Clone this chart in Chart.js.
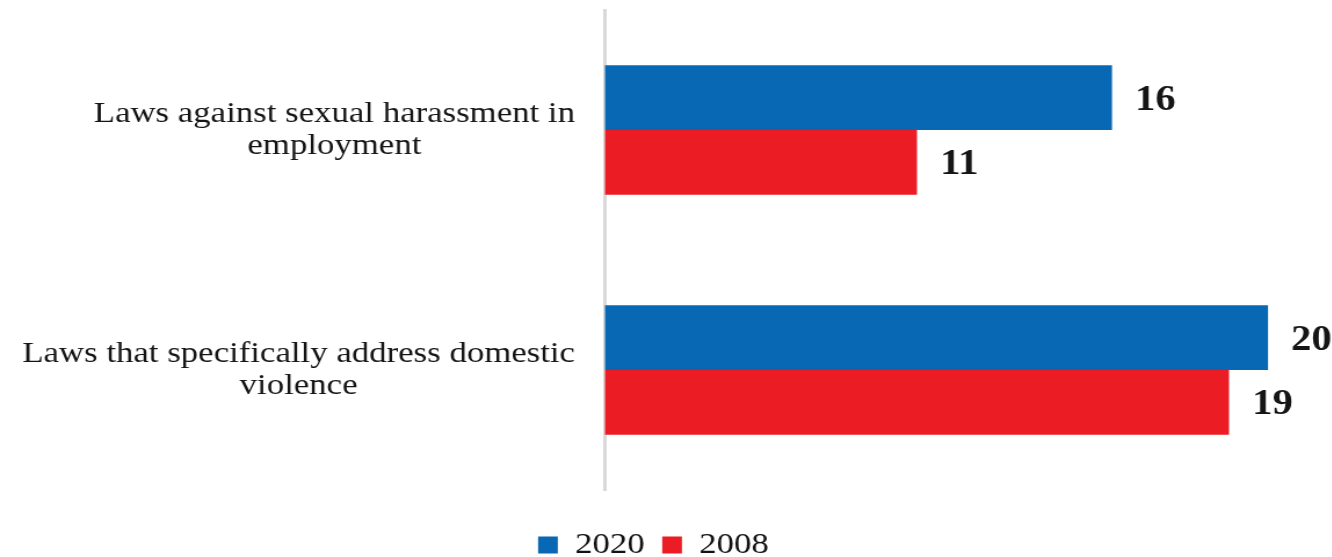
<!DOCTYPE html>
<html>
<head>
<meta charset="utf-8">
<script src="https://cdn.jsdelivr.net/npm/chart.js@4/dist/chart.umd.min.js"></script>
<style>
  html, body { margin: 0; padding: 0; background: #fff; overflow: hidden; }
  /* the source picture is stretched sideways, so the whole canvas is too */
  #chart { display: block; transform: scaleX(1.16); transform-origin: 0 0; }
</style>
</head>
<body>
<canvas id="chart" width="1148" height="557"></canvas>
<script>
const categories = [
    ['Laws against sexual harassment in', 'employment'],
    ['Laws that specifically address domestic', 'violence']
];
const seriesNames = ['2020', '2008'];
const values2020 = [16, 20];
const values2008 = [11, 19];
const axisMin = 3;
const axisMax = 21;

const STRETCH = 1.16;
const SERIF = "'Liberation Serif', 'Times New Roman', serif";
const BLUE = '#0868b4';
const RED = '#ec1c24';

// draws the wrapped category names (each block centred on itself) and the bold values
const labelPlugin = {
    id: 'sideLabels',
    afterDraw(chart) {
        const ctx = chart.ctx;
        const yScale = chart.scales.y;
        const labelRight = 575 / STRETCH;
        ctx.save();
        ctx.fillStyle = '#151515';
        ctx.textBaseline = 'alphabetic';
        ctx.font = `30px ${SERIF}`;
        ctx.textAlign = 'center';
        categories.forEach((lines, i) => {
            const cy = yScale.getPixelForTick(i);
            const widest = Math.max(...lines.map(l => ctx.measureText(l).width));
            const cx = labelRight - widest / 2;
            lines.forEach((l, k) => ctx.fillText(l, cx, cy - 8 + k * 32));
        });

        ctx.font = `bold 35px ${SERIF}`;
        ctx.textAlign = 'left';
        chart.data.datasets.forEach((ds, d) => {
            chart.getDatasetMeta(d).data.forEach((bar, i) => {
                ctx.fillText(String(ds.data[i]), bar.x + 20, bar.y + 12);
            });
        });
        ctx.restore();
    }
};

new Chart(document.getElementById('chart'), {
    type: 'bar',
    data: {
        labels: categories,
        datasets: [
            { label: seriesNames[0], data: values2020, backgroundColor: BLUE, borderWidth: 0 },
            { label: seriesNames[1], data: values2008, backgroundColor: RED, borderWidth: 0 }
        ]
    },
    options: {
        indexAxis: 'y',
        responsive: false,
        devicePixelRatio: 1,
        animation: false,
        categoryPercentage: 0.54,
        barPercentage: 1,
        layout: { padding: { top: 10, left: 0, right: 1148 - 1307 / STRETCH, bottom: -13 } },
        plugins: {
            tooltip: { enabled: false },
            legend: {
                position: 'bottom',
                labels: {
                    color: '#111',
                    font: { family: SERIF, size: 30 },
                    boxWidth: 17,
                    boxHeight: 17,
                    padding: 15
                }
            }
        },
        scales: {
            x: {
                min: axisMin,
                max: axisMax,
                grid: { display: false },
                border: { display: false },
                ticks: { display: false },
                afterFit(s) { s.height = 25; }
            },
            y: {
                grid: { display: false },
                border: { display: true, color: '#d9d9d9', width: 3 },
                ticks: { display: false },
                afterFit(s) { s.width = 605 / STRETCH; }
            }
        }
    },
    plugins: [labelPlugin]
});
</script>
</body>
</html>
